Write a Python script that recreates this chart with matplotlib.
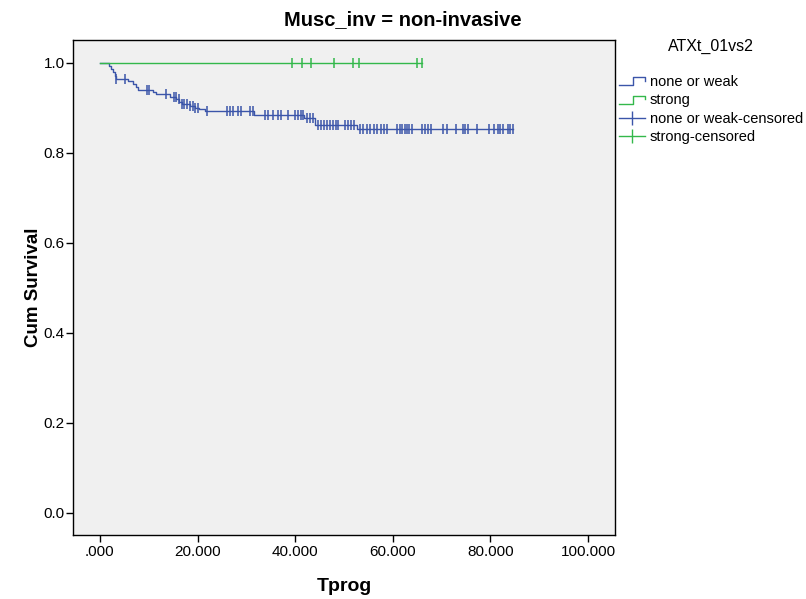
import numpy as np
import matplotlib
matplotlib.use("Agg")
import matplotlib.pyplot as plt
from matplotlib.lines import Line2D
from matplotlib.legend_handler import HandlerBase

plt.rcParams['font.family'] = ['Liberation Sans', 'DejaVu Sans']

# ---------------- data ----------------
title = "Musc_inv = non-invasive"
legend_title = "ATXt_01vs2"
group_labels = ["none or weak", "strong"]
censor_labels = ["none or weak-censored", "strong-censored"]

# group "none or weak": Kaplan-Meier steps (time, survival after the step)
weak_event_times = [0.0, 1.8, 2.2, 2.6, 3.0, 3.3, 5.8, 6.8, 7.3, 7.8, 10.9, 11.6,
                    14.3, 15.6, 16.3, 16.9, 18.4, 19.4, 20.4, 21.5, 31.5, 41.8,
                    44.0, 52.6]
weak_survival = [1.0, 0.993, 0.985, 0.978, 0.970, 0.963, 0.958, 0.952, 0.945, 0.939,
                 0.935, 0.931, 0.924, 0.918, 0.912, 0.908, 0.904, 0.900, 0.896,
                 0.892, 0.884, 0.876, 0.862, 0.853]
weak_last_time = 84.6
weak_censor_times = [3.4, 5.1, 9.6, 10.0, 13.5, 15.2, 15.5, 16.2, 16.9, 17.3, 17.8,
                     18.4, 19.0, 19.5, 20.0, 22.0, 26.0, 26.6, 27.3, 28.3, 29.0,
                     30.7, 31.4, 33.8, 34.4, 35.5, 36.5, 37.2, 38.6, 40.0, 40.6,
                     41.2, 41.6, 42.4, 43.0, 43.6, 44.7, 45.3, 45.9, 46.5, 47.1,
                     47.7, 48.4, 48.8, 50.2, 50.8, 51.4, 52.0, 53.3, 53.9, 54.7,
                     55.3, 56.1, 56.8, 57.6, 58.2, 58.8, 60.8, 61.4, 61.9, 62.4,
                     62.9, 63.4, 64.0, 66.0, 66.6, 67.3, 67.9, 70.3, 71.0, 73.0,
                     74.4, 74.8, 75.4, 77.2, 79.6, 80.7, 81.5, 82.0, 82.6, 83.5,
                     84.0, 84.6]

# group "strong": no events
strong_event_times = [0.0]
strong_survival = [1.0]
strong_last_time = 65.9
strong_censor_times = [39.3, 41.3, 43.2, 48.0, 51.8, 53.1, 65.0, 65.9]

x_ticks = [0, 20, 40, 60, 80, 100]
x_tick_labels = [".000", "20.000", "40.000", "60.000", "80.000", "100.000"]
y_ticks = [0.0, 0.2, 0.4, 0.6, 0.8, 1.0]
y_tick_labels = ["0.0", "0.2", "0.4", "0.6", "0.8", "1.0"]

# ---------------- styling ----------------
blue = "#3b55a9"
green = "#33b84b"

fig = plt.figure(figsize=(8.06, 5.99), dpi=100)
ax = fig.add_axes([73 / 806, 1 - 535 / 599, (615 - 73) / 806, (535 - 40) / 599])
ax.set_facecolor("#f0f0f0")


def km_curve(ax, times, surv, last, censors, color):
    xs = list(times) + [last]
    ys = list(surv) + [surv[-1]]
    ax.step(xs, ys, where="post", color=color, lw=1.0, zorder=3)
    idx = np.searchsorted(np.asarray(times), np.asarray(censors), side="right") - 1
    cy = np.asarray(surv)[idx]
    ax.plot(censors, cy, linestyle="none", marker="|", markersize=7,
            markeredgewidth=1.1, color=color, zorder=4)


km_curve(ax, weak_event_times, weak_survival, weak_last_time, weak_censor_times, blue)
km_curve(ax, strong_event_times, strong_survival, strong_last_time, strong_censor_times, green)

ax.set_xlim(-5.5, 105.5)
ax.set_ylim(-0.049, 1.05)
ax.set_xticks(x_ticks)
ax.set_xticklabels(x_tick_labels)
ax.set_yticks(y_ticks)
ax.set_yticklabels(y_tick_labels)
ax.tick_params(axis="both", direction="out", length=5, width=1, labelsize=11,
               colors="black", pad=1)
ax.tick_params(axis="x", pad=2)
for sp in ax.spines.values():
    sp.set_linewidth(1.0)
    sp.set_color("black")

ax.set_xlabel("Tprog", fontsize=14, fontweight="bold", labelpad=14)
ax.set_ylabel("Cum Survival", fontsize=13.5, fontweight="bold", labelpad=1)
fig.text(0.5, 1 - 20 / 599, title, ha="center", va="center", fontsize=14.5,
         fontweight="bold")


class StepHandler(HandlerBase):
    def create_artists(self, legend, orig_handle, xdescent, ydescent, width,
                       height, fontsize, trans):
        x0, y0 = -xdescent, -ydescent
        xs = [x0, x0 + width * 0.55, x0 + width * 0.55, x0 + width, x0 + width]
        ys = [y0 + height * 0.05, y0 + height * 0.05, y0 + height * 0.85,
              y0 + height * 0.85, y0 + height * 0.5]
        ln = Line2D(xs, ys, color=orig_handle.get_color(), lw=1.0, transform=trans)
        return [ln]


h1 = Line2D([], [], color=blue)
h2 = Line2D([], [], color=green)
h3 = Line2D([], [], color=blue, marker="|", markersize=10, lw=1.0, markeredgewidth=1.0)
h4 = Line2D([], [], color=green, marker="|", markersize=10, lw=1.0, markeredgewidth=1.0)
leg = fig.legend([h1, h2, h3, h4], group_labels + censor_labels,
                 title=legend_title, loc="upper left",
                 bbox_to_anchor=(619 / 806, 1 - 39 / 599),
                 frameon=False, fontsize=10.5, title_fontsize=11.5,
                 handlelength=1.8, handletextpad=0.3, labelspacing=0.3,
                 borderaxespad=0, borderpad=0, numpoints=1,
                 handler_map={h1: StepHandler(), h2: StepHandler()})
leg._legend_box.sep = 15

fig.savefig("out.png", dpi=100)
